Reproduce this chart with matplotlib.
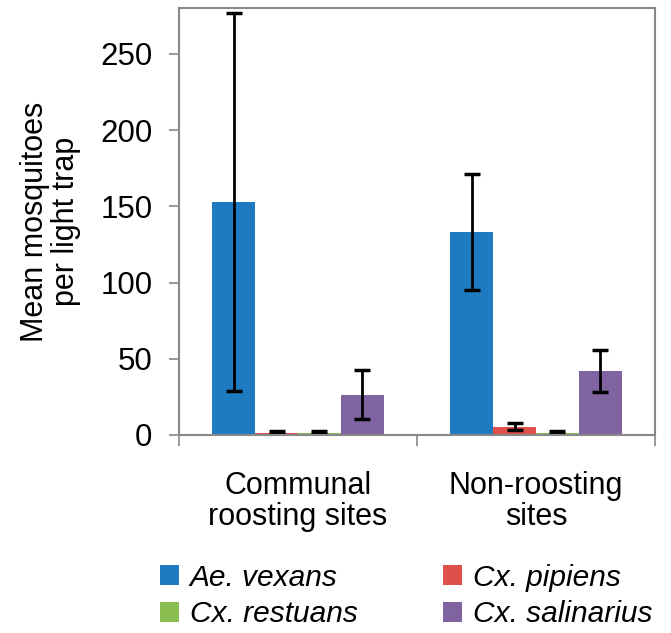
import numpy as np
import matplotlib.pyplot as plt

plt.rcParams['font.family'] = ['Liberation Sans', 'DejaVu Sans']

sites = ['Communal\nroosting sites', 'Non-roosting\nsites']
species = ['Ae. vexans', 'Cx. pipiens', 'Cx. restuans', 'Cx. salinarius']
means = {
    'Ae. vexans': [153, 133],
    'Cx. pipiens': [1.5, 5.5],
    'Cx. restuans': [1.5, 1.5],
    'Cx. salinarius': [26.5, 42],
}
errors = {
    'Ae. vexans': [124, 38],
    'Cx. pipiens': [1.0, 2.5],
    'Cx. restuans': [1.0, 1.0],
    'Cx. salinarius': [16, 14],
}
colors = ['#1f7bc1', '#e0504a', '#8bbe50', '#8064a2']

fig = plt.figure(figsize=(6.71, 6.33), dpi=100)
ax = fig.add_axes([179/671, 1-435/633, 476/671, 427/633])

x = np.arange(len(sites))
w = 0.18
bars = []
for i, sp in enumerate(species):
    b = ax.bar(x + (i - 1.5) * w, means[sp], w, color=colors[i], label=sp,
               yerr=errors[sp], capsize=6,
               error_kw=dict(elinewidth=2, capthick=2.5, ecolor='black'))
    bars.append(b)

ax.set_xlim(-0.5, 1.5)
ax.set_ylim(0, 280)
ax.set_yticks([0, 50, 100, 150, 200, 250])
ax.set_xticks(x)
ax.set_xticklabels(sites, fontsize=22, linespacing=1.05)
ax.tick_params(axis='x', length=0, pad=26)
ax.tick_params(axis='y', labelsize=22.5, length=7, color='#888888', width=1.2, pad=12)
ax.set_xticks([-0.5, 0.5, 1.5], minor=True)
ax.tick_params(axis='x', which='minor', length=8, color='#888888', width=1.2)
for s in ax.spines.values():
    s.set_color('#888888')
    s.set_linewidth(1.5)
ax.set_ylabel('Mean mosquitoes\nper light trap', fontsize=22, labelpad=14, linespacing=1.05)

order = [0, 2, 1, 3]
leg = fig.legend([bars[i] for i in order], [species[i] for i in order],
                 loc='lower left', bbox_to_anchor=(133/671, -0.035), ncol=2, frameon=False,
                 prop={'size': 21.5, 'style': 'italic'}, handlelength=0.65, handleheight=0.65,
                 handletextpad=0.35, columnspacing=2.85, labelspacing=0.28)

fig.savefig('out.png', dpi=100)
